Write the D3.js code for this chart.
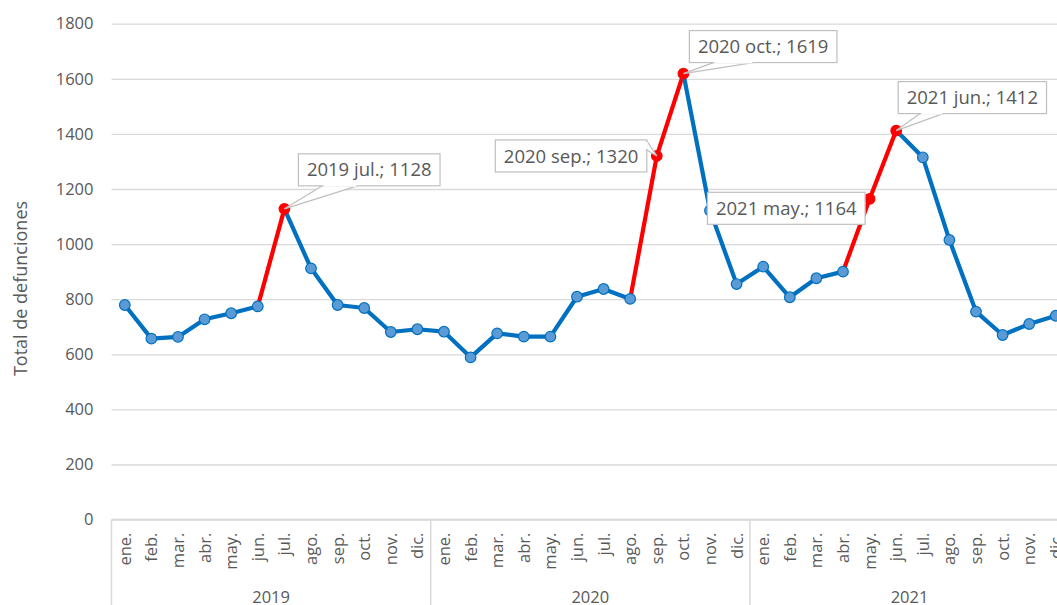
<!DOCTYPE html>
<html>
<head>
<meta charset="utf-8">
<script src="https://cdn.jsdelivr.net/npm/d3@7"></script>
<style>
  body { margin: 0; background: #fff; }
  svg { display: block; font-family: "Open Sans", sans-serif; }
</style>
</head>
<body>
<svg width="1057" height="605"></svg>
<script>
// données
const years = ["2019", "2020", "2021"];
const months = ["ene.", "feb.", "mar.", "abr.", "may.", "jun.", "jul.", "ago.", "sep.", "oct.", "nov.", "dic."];
const deaths = [
  779, 657, 663, 727, 749, 774, 1128, 912, 779, 768, 681, 691,
  682, 589, 676, 664, 664, 809, 837, 801, 1320, 1619, 1122, 855,
  918, 807, 876, 900, 1164, 1412, 1315, 1015, 755, 670, 710, 740
];
const yTicks = [0, 200, 400, 600, 800, 1000, 1200, 1400, 1600, 1800];
// points en rouge (pics annotés)
const peaks = [6, 20, 21, 28, 29];

// position des étiquettes par rapport au point (mise en page)
const calloutPos = {
  6:  { dx: 14, dy: -55, anchor: "left", wedge: "bottom", w0: 24, w1: 59 },
  21: { dx: 6, dy: -43, anchor: "left", wedge: "bottom", w0: 24, w1: 64 },
  20: { dx: -10, dy: -16, anchor: "right", wedge: "right", w0: 1, w1: 10 },
  28: { dx: -4.5, dy: -6.6, anchor: "right", wedge: "none" },
  29: { dx: 2, dy: -49, anchor: "left", wedge: "bottom", w0: 22, w1: 45 }
};

const data = deaths.map((v, i) => ({
  i, value: v,
  year: years[Math.floor(i / 12)],
  month: months[i % 12],
  peak: peaks.includes(i)
}));

const svg = d3.select("svg");
const plotLeft = 111.5, band = 26.6;
const plotTop = 23.7, plotBottom = 519.6;
const plotRight = plotLeft + band * data.length;

const x = d3.scaleBand().domain(data.map(d => d.i)).range([plotLeft, plotRight]).padding(0);
const cx = i => x(i) + x.bandwidth() / 2;
const y = d3.scaleLinear().domain([0, 1800]).range([plotBottom, plotTop]);

const textCol = "#595959", gridCol = "#d9d9d9";

// grille + axe Y
const yAxis = svg.append("g")
  .attr("transform", `translate(${plotLeft},0)`)
  .call(d3.axisLeft(y).tickValues(yTicks).tickFormat(d3.format("d"))
    .tickSize(-(plotRight - plotLeft)).tickPadding(18));
yAxis.select(".domain").remove();
yAxis.selectAll(".tick line").attr("stroke", gridCol).attr("stroke-width", 1.3);
yAxis.selectAll(".tick text").attr("fill", textCol).attr("font-size", 16.5)
  .attr("font-family", "Open Sans, sans-serif");

// axe X : mois pivotés
const xAxis = svg.append("g")
  .attr("transform", `translate(0,${plotBottom})`)
  .call(d3.axisBottom(x).tickFormat(i => months[i % 12]).tickSize(0));
xAxis.select(".domain").remove();
xAxis.selectAll(".tick text")
  .attr("fill", textCol).attr("font-size", 16.5).attr("font-family", "Open Sans, sans-serif")
  .attr("transform", "rotate(-90)")
  .attr("text-anchor", "end")
  .attr("x", -13).attr("y", 0).attr("dy", "0.36em");

// ligne de base et séparateurs des années
svg.append("line").attr("x1", plotLeft).attr("x2", plotRight)
  .attr("y1", plotBottom).attr("y2", plotBottom).attr("stroke", gridCol).attr("stroke-width", 1.5);
for (let k = 0; k <= years.length; k++) {
  const xx = plotLeft + k * 12 * band;
  svg.append("line").attr("x1", xx).attr("x2", xx)
    .attr("y1", plotBottom).attr("y2", 605).attr("stroke", gridCol).attr("stroke-width", 1.5);
}
svg.selectAll(".year").data(years).join("text")
  .attr("x", (d, k) => plotLeft + (k + 0.5) * 12 * band)
  .attr("y", 602.5)
  .attr("text-anchor", "middle").attr("fill", textCol).attr("font-size", 16.5)
  .text(d => d);

// titre axe Y
svg.append("text")
  .attr("transform", "translate(26.5,288.5) rotate(-90)")
  .attr("text-anchor", "middle").attr("fill", textCol).attr("font-size", 18)
  .text("Total de defunciones");

// segments de la courbe (rouge si on monte vers un pic)
const segs = d3.pairs(data);
svg.append("g").selectAll("line").data(segs).join("line")
  .attr("x1", d => cx(d[0].i)).attr("y1", d => y(d[0].value))
  .attr("x2", d => cx(d[1].i)).attr("y2", d => y(d[1].value))
  .attr("stroke", d => d[1].peak ? "#ff0000" : "#0070c0")
  .attr("stroke-width", 4.2)
  .attr("stroke-linecap", "round");

// marqueurs
svg.append("g").selectAll("circle").data(data).join("circle")
  .attr("cx", d => cx(d.i)).attr("cy", d => y(d.value))
  .attr("r", 5.3)
  .attr("fill", d => d.peak ? "#ff0000" : "#5b9bd5")
  .attr("stroke", d => d.peak ? "#ff0000" : "#0070c0")
  .attr("stroke-width", 1.2);

// étiquettes des pics
const padX = 8.5, boxH = 32;
data.filter(d => d.peak).forEach(d => {
  const p = calloutPos[d.i];
  const px = cx(d.i), py = y(d.value);
  const g = svg.append("g");
  const t = g.append("text")
    .attr("fill", textCol).attr("font-size", 18.5)
    .text(`${d.year} ${d.month}; ${d.value}`);
  const tw = t.node().getComputedTextLength();
  const bw = tw + 2 * padX;
  const bx = p.anchor === "left" ? px + p.dx : px + p.dx - bw;
  const by = py + p.dy;
  let pts;
  if (p.wedge === "bottom") {
    pts = [[bx + p.w0, by + boxH], [px, py], [bx + p.w1, by + boxH]];
  } else if (p.wedge === "right") {
    pts = [[bx + bw, by + p.w0], [px, py], [bx + bw, by + p.w1]];
  }
  if (pts) {
    g.insert("polygon", "text").attr("points", pts.map(q => q.join(",")).join(" "))
      .attr("fill", "#fff").attr("stroke", "#bfbfbf").attr("stroke-width", 1.2);
  }
  g.insert("rect", "text")
    .attr("x", bx).attr("y", by).attr("width", bw).attr("height", boxH)
    .attr("fill", "#fff").attr("stroke", "#bfbfbf").attr("stroke-width", 1.2);
  // cacher le trait du bord sous la pointe
  if (p.wedge === "bottom") {
    g.insert("line", "text").attr("x1", bx + p.w0 + 1).attr("x2", bx + p.w1 - 1)
      .attr("y1", by + boxH).attr("y2", by + boxH).attr("stroke", "#fff").attr("stroke-width", 2);
  } else if (p.wedge === "right") {
    g.insert("line", "text").attr("x1", bx + bw).attr("x2", bx + bw)
      .attr("y1", by + p.w0 + 1).attr("y2", by + p.w1 - 1).attr("stroke", "#fff").attr("stroke-width", 2);
  }
  t.attr("x", bx + padX).attr("y", by + boxH / 2).attr("dy", "0.36em");
});
</script>
</body>
</html>
